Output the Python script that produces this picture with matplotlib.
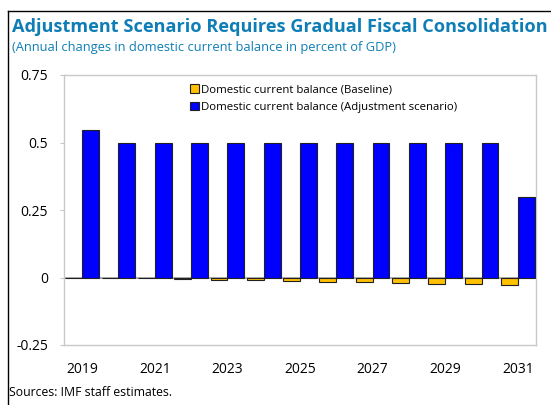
import numpy as np
import matplotlib.pyplot as plt
from matplotlib.lines import Line2D
from matplotlib.patches import Patch

plt.rcParams['font.family'] = ['Open Sans', 'DejaVu Sans']

years = [2019, 2020, 2021, 2022, 2023, 2024, 2025, 2026, 2027, 2028, 2029, 2030, 2031]
baseline = [-0.001, -0.003, -0.003, -0.006, -0.008, -0.010, -0.012,
            -0.016, -0.017, -0.020, -0.023, -0.024, -0.027]
adjustment = [0.545, 0.5, 0.5, 0.5, 0.5, 0.5, 0.5, 0.5, 0.5, 0.5, 0.5, 0.5, 0.3]
yticks = [-0.25, 0, 0.25, 0.5, 0.75]
ytick_labels = ['-0.25', '0', '0.25', '0.5', '0.75']
xtick_years = [2019, 2021, 2023, 2025, 2027, 2029, 2031]

title_color = '#0f7eb6'
yellow = '#ffc000'
blue = '#0000ff'
grey = '#c8c8c8'

fig = plt.figure(figsize=(5.51, 4.05), dpi=100)
ax = fig.add_axes([64 / 551, 60 / 405, 472 / 551, 270 / 405])

x = np.arange(len(years))
w = 0.465
ax.bar(x - w / 2, baseline, width=w, color=yellow, edgecolor='#202020',
       linewidth=0.8, label='Domestic current balance (Baseline)', zorder=3)
ax.bar(x + w / 2, adjustment, width=w, color=blue, edgecolor='#202020',
       linewidth=0.8, label='Domestic current balance (Adjustment scenario)', zorder=3)
ax.axhline(0, color='#a0a0a0', linewidth=1.2, zorder=2)

ax.set_xlim(-0.5, len(years) - 0.5)
ax.set_ylim(-0.25, 0.75)
ax.set_yticks(yticks)
ax.set_yticklabels(ytick_labels)
ax.set_xticks([years.index(y) for y in xtick_years])
ax.set_xticklabels([str(y) for y in xtick_years])
ax.tick_params(axis='y', length=3, color=grey, pad=8.5, labelsize=10)
ax.tick_params(axis='x', length=0, pad=12, labelsize=10)
for s in ax.spines.values():
    s.set_color(grey)
    s.set_linewidth(1.0)

handles = [Patch(facecolor=yellow, edgecolor='#202020', linewidth=0.8),
           Patch(facecolor=blue, edgecolor='#202020', linewidth=0.8)]
ax.legend(handles, ['Domestic current balance (Baseline)',
                    'Domestic current balance (Adjustment scenario)'],
          loc='upper left', bbox_to_anchor=(0.25, 0.995), frameon=False,
          fontsize=8.2, handlelength=0.75, handleheight=0.75, handletextpad=0.2,
          labelspacing=0.55, borderpad=0.2)

fig.text(12 / 551, 1 - 27 / 405, 'Adjustment Scenario Requires Gradual Fiscal Consolidation',
         fontsize=13.1, fontweight='bold', color=title_color, va='center', ha='left')
fig.text(12 / 551, 1 - 47 / 405, '(Annual changes in domestic current balance in percent of GDP)',
         fontsize=9.25, color=title_color, va='center', ha='left')
fig.text(9 / 551, 1 - 392 / 405, 'Sources: IMF staff estimates.',
         fontsize=8.8, color='black', va='center', ha='left')

fig.add_artist(Line2D([7.5 / 551, 7.5 / 551], [0, 1 - 10.5 / 405], transform=fig.transFigure,
                      color='black', linewidth=1.0))
fig.add_artist(Line2D([7.5 / 551, 1], [1 - 10.5 / 405, 1 - 10.5 / 405], transform=fig.transFigure,
                      color='black', linewidth=1.0))

fig.savefig('out.png', dpi=100)
